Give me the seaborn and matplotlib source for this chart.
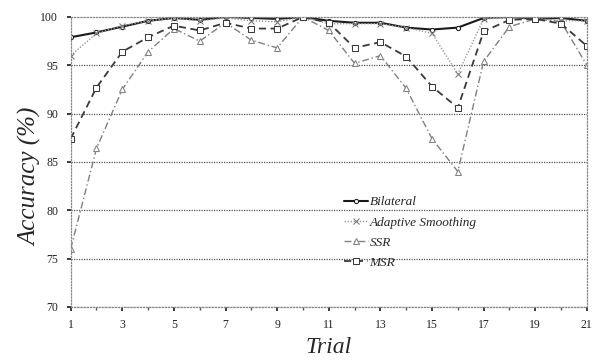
import matplotlib
matplotlib.use("Agg")
import matplotlib.pyplot as plt
import seaborn as sns
import pandas as pd

trials = list(range(1, 22))
bilateral = [97.9, 98.4, 99.0, 99.6, 99.9, 99.7, 100.0, 99.9, 99.8, 100.0, 99.6,
             99.4, 99.4, 98.9, 98.7, 98.9, 99.9, 100.0, 99.8, 99.9, 99.6]
adaptive = [96.0, 98.3, 99.1, 99.6, 99.9, 99.6, 99.9, 99.6, 99.5, 100.0, 99.3,
            99.3, 99.3, 98.9, 98.3, 94.1, 99.8, 99.9, 99.9, 99.6, 99.6]
ssr = [76.0, 86.4, 92.5, 96.4, 98.8, 97.5, 99.4, 97.6, 96.8, 100.0, 98.6,
       95.2, 96.0, 92.6, 87.4, 84.0, 95.4, 99.0, 99.8, 99.5, 95.0]
msr = [87.4, 92.7, 96.4, 97.9, 99.1, 98.6, 99.4, 98.8, 98.8, 100.0, 99.4,
       96.8, 97.4, 95.9, 92.8, 90.6, 98.5, 99.7, 99.8, 99.3, 97.0]
series_names = ["Bilateral", "Adaptive Smoothing", "SSR", "MSR"]
x_ticks = list(range(1, 22, 2))
y_ticks = list(range(70, 101, 5))

sns.set_theme(style="white")
plt.rcParams["font.family"] = ["Liberation Serif", "DejaVu Serif"]

fig = plt.figure(figsize=(5.94, 3.61), dpi=100)
ax = fig.add_axes([0.119, 0.150, 0.869, 0.803])

styles = {
    "Bilateral": dict(color="#1a1a1a", linestyle="-", linewidth=1.5, marker="o",
                      markersize=3, markerfacecolor="white", markeredgecolor="#1a1a1a"),
    "Adaptive Smoothing": dict(color="#9a9a9a", linestyle=(0, (1, 1.2)), linewidth=1.0, marker="x",
                               markersize=4.5, markeredgecolor="#777777"),
    "SSR": dict(color="#808080", linestyle=(0, (5, 2, 1, 2)), linewidth=1.0, marker="^",
                markersize=4, markerfacecolor="white", markeredgecolor="#808080"),
    "MSR": dict(color="#3a3a3a", linestyle=(0, (4, 2.5)), linewidth=1.3, marker="s",
                markersize=4, markerfacecolor="white", markeredgecolor="#3a3a3a"),
}
data = {"Bilateral": bilateral, "Adaptive Smoothing": adaptive, "SSR": ssr, "MSR": msr}

for name in series_names:
    df = pd.DataFrame({"Trial": trials, "Accuracy": data[name]})
    sns.lineplot(data=df, x="Trial", y="Accuracy", ax=ax, label=name, **styles[name])

ax.set_xlim(1, 21)
ax.set_ylim(70, 100)
ax.set_xticks(x_ticks)
ax.set_yticks(y_ticks)
ax.set_xticks(trials, minor=True)
ax.tick_params(axis="both", which="major", labelsize=8.5, length=3, direction="out",
               colors="#222222", pad=6)
ax.tick_params(axis="x", which="minor", length=2, bottom=True, direction="out", color="#555555")
ax.tick_params(axis="y", left=True)
ax.tick_params(axis="x", bottom=True)

for y in y_ticks[:-1]:
    ax.axhline(y, color="#555555", linestyle=(0, (1, 1)), linewidth=0.9, zorder=0)
for s in ax.spines.values():
    s.set_linestyle((0, (1, 1.5)))
    s.set_color("#888888")
    s.set_linewidth(0.9)

ax.set_xlabel("Trial", fontsize=17, fontstyle="italic", labelpad=4)
ax.set_ylabel("Accuracy (%)", fontsize=18, fontstyle="italic", labelpad=1)
ax.yaxis.set_label_coords(-0.055, 0.45)

leg = ax.legend(loc="upper left", bbox_to_anchor=(0.52, 0.40), frameon=False,
                prop={"family": "Liberation Serif", "style": "italic", "size": 9.5},
                handlelength=1.8, handletextpad=0.1, labelspacing=0.6, borderaxespad=0)

fig.savefig("out.png", dpi=100)
